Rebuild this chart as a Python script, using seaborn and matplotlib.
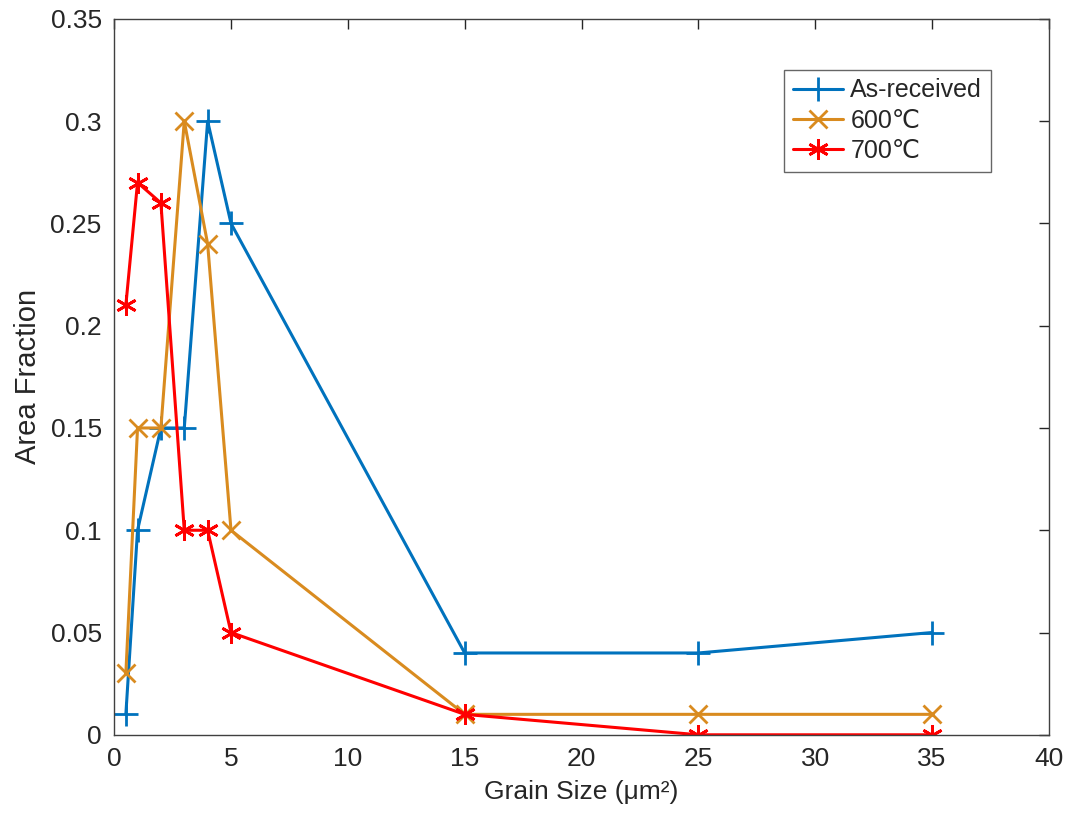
import matplotlib
matplotlib.use('Agg')
import matplotlib.pyplot as plt
import pandas as pd
import seaborn as sb

# data
grain_size = [0.5, 1, 2, 3, 4, 5, 15, 25, 35]
as_received = [0.01, 0.10, 0.15, 0.15, 0.30, 0.25, 0.04, 0.04, 0.05]
t600 = [0.03, 0.15, 0.15, 0.30, 0.24, 0.10, 0.01, 0.01, 0.01]
t700 = [0.21, 0.27, 0.26, 0.10, 0.10, 0.05, 0.01, 0.00, 0.00]
labels = ['As-received', '600\u2103', '700\u2103']

series = {labels[0]: as_received, labels[1]: t600, labels[2]: t700}
colors = {labels[0]: '#0072BD', labels[1]: '#D98B1F', labels[2]: '#FF0000'}
markers = {labels[0]: '+', labels[1]: 'x', labels[2]: (6, 2, 0)}
msizes = {labels[0]: 17, labels[1]: 13, labels[2]: 15}

sb.set_style('white')
plt.rcParams['font.family'] = ['Liberation Sans', 'DejaVu Sans', 'Noto Sans CJK SC']

fig = plt.figure(figsize=(10.67, 8.21), dpi=100)
ax = fig.add_axes([0.107, 0.105, 0.876, 0.872])

for name, vals in series.items():
    df = pd.DataFrame({'x': grain_size, 'y': vals})
    sb.lineplot(data=df, x='x', y='y', ax=ax, color=colors[name], label=name,
                marker=markers[name], markersize=msizes[name], markeredgewidth=2.0,
                markeredgecolor=colors[name], linewidth=2.2, sort=False)

ax.set_xlim(0, 40)
ax.set_ylim(0, 0.35)
ax.set_xticks(range(0, 41, 5))
ax.set_yticks([0, 0.05, 0.1, 0.15, 0.2, 0.25, 0.3, 0.35])
ax.set_yticklabels(['0', '0.05', '0.1', '0.15', '0.2', '0.25', '0.3', '0.35'])
ax.tick_params(direction='in', length=7, width=1, labelsize=19, colors='#262626',
               top=True, right=True, pad=9)
for s in ax.spines.values():
    s.set_visible(True)
    s.set_color('#404040')
    s.set_linewidth(1)

ax.set_xlabel('Grain Size (\u03bcm\u00b2)', fontsize=19, color='#262626', labelpad=6)
ax.set_ylabel('Area Fraction', fontsize=21, color='#262626', labelpad=6)

leg = ax.legend(loc='upper right', bbox_to_anchor=(0.938, 0.929), fontsize=18,
                frameon=True, fancybox=False, handlelength=2.0, borderpad=0.35,
                labelspacing=0.25, handletextpad=0.3, borderaxespad=0)
leg.get_frame().set_edgecolor('#404040')
leg.get_frame().set_linewidth(1)

plt.savefig('out.png', dpi=100)
